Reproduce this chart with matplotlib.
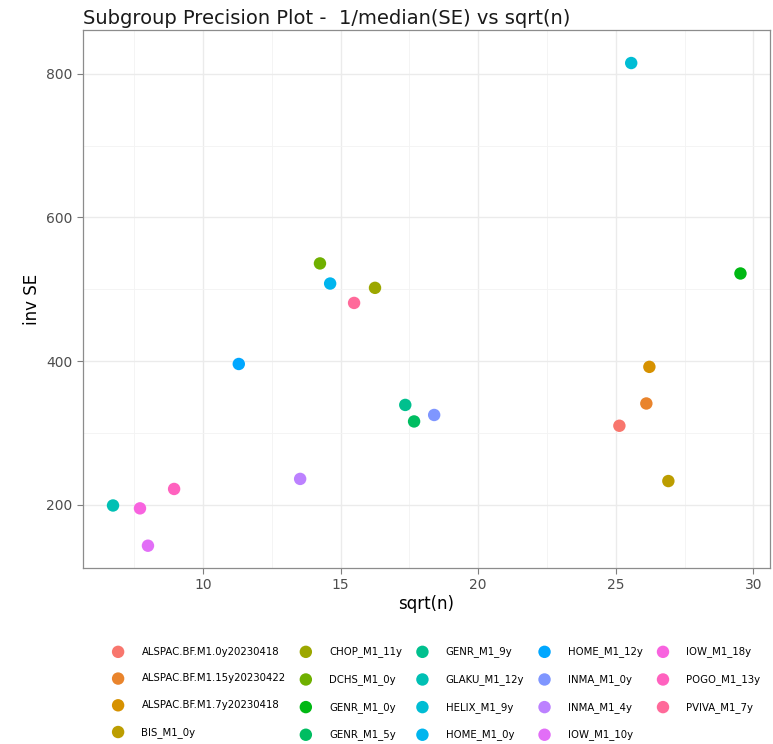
import numpy as np
import matplotlib
matplotlib.use("Agg")
import matplotlib.pyplot as plt

groups = [
    "ALSPAC.BF.M1.0y20230418", "ALSPAC.BF.M1.15y20230422", "ALSPAC.BF.M1.7y20230418",
    "BIS_M1_0y", "CHOP_M1_11y", "DCHS_M1_0y", "GENR_M1_0y", "GENR_M1_5y", "GENR_M1_9y",
    "GLAKU_M1_12y", "HELIX_M1_9y", "HOME_M1_0y", "HOME_M1_12y", "INMA_M1_0y",
    "INMA_M1_4y", "IOW_M1_10y", "IOW_M1_18y", "POGO_M1_13y", "PVIVA_M1_7y",
]
sqrt_n = [25.13, 26.11, 26.22, 26.91, 16.25, 14.25, 29.53, 17.67, 17.35,
          6.73, 25.56, 14.62, 11.3, 18.4, 13.53, 8.0, 7.71, 8.95, 15.49]
inv_se = [310, 341, 392, 233, 502, 536, 522, 316, 339,
          199, 815, 508, 396, 325, 236, 143, 195, 222, 481]


def hue_pal(n, l=65, c=100):
    """ggplot2 default hue palette (polar Luv -> sRGB)."""
    hues = np.linspace(15, 375, n + 1)[:-1]
    xn, yn, zn = 95.047, 100.0, 108.883
    un = 4 * xn / (xn + 15 * yn + 3 * zn)
    vn = 9 * yn / (xn + 15 * yn + 3 * zn)
    m = np.array([[3.240479, -1.537150, -0.498535],
                  [-0.969256, 1.875992, 0.041556],
                  [0.055648, -0.204043, 1.057311]])
    cols = []
    for h in hues:
        u = c * np.cos(np.radians(h))
        v = c * np.sin(np.radians(h))
        Y = yn * ((l + 16) / 116) ** 3
        up = u / (13 * l) + un
        vp = v / (13 * l) + vn
        X = 9 * Y * up / (4 * vp)
        Z = -X / 3 - 5 * Y + 3 * Y / vp
        rgb = m @ (np.array([X, Y, Z]) / 100)
        rgb = np.where(rgb > 0.0031308, 1.055 * np.abs(rgb) ** (1 / 2.4) - 0.055, 12.92 * rgb)
        cols.append(tuple(np.clip(rgb, 0, 1)))
    return cols


colors = hue_pal(len(groups))

fig = plt.figure(figsize=(7.73, 7.44), dpi=100)
ax = fig.add_axes([0.1074, 0.2366, 0.8886, 0.7231])

for g, x, y, col in zip(groups, sqrt_n, inv_se, colors):
    ax.scatter(x, y, s=80, color=col, label=g, edgecolors="none", zorder=3)

ax.set_xlim(5.64, 30.6)
ax.set_ylim(112, 861)
ax.set_xticks([10, 15, 20, 25, 30])
ax.set_xticks([7.5, 12.5, 17.5, 22.5, 27.5], minor=True)
ax.set_yticks([200, 400, 600, 800])
ax.set_yticks([300, 500, 700], minor=True)
ax.grid(which="major", color="#EBEBEB", linewidth=1.0)
ax.grid(which="minor", color="#F3F3F3", linewidth=0.6)
ax.set_axisbelow(True)
ax.tick_params(which="major", colors="#7F7F7F", labelcolor="#4D4D4D", labelsize=10, length=4)
ax.tick_params(which="minor", length=0)
for s in ax.spines.values():
    s.set_color("#8C8C8C")
    s.set_linewidth(0.9)

ax.set_xlabel("sqrt(n)", fontsize=12, labelpad=2)
ax.set_ylabel("inv SE", fontsize=12)
fig.text(0.1074, 0.962, "Subgroup Precision Plot -  1/median(SE) vs sqrt(n)",
         fontsize=14, ha="left", va="bottom", color="#1A1A1A")

fig.legend(loc="center", bbox_to_anchor=(0.565, 0.068), ncol=5, frameon=False,
           fontsize=7.3, handlelength=1, handletextpad=1.8, columnspacing=1.5,
           labelspacing=1.65, markerscale=1.0)

fig.savefig("out.png", dpi=100)
